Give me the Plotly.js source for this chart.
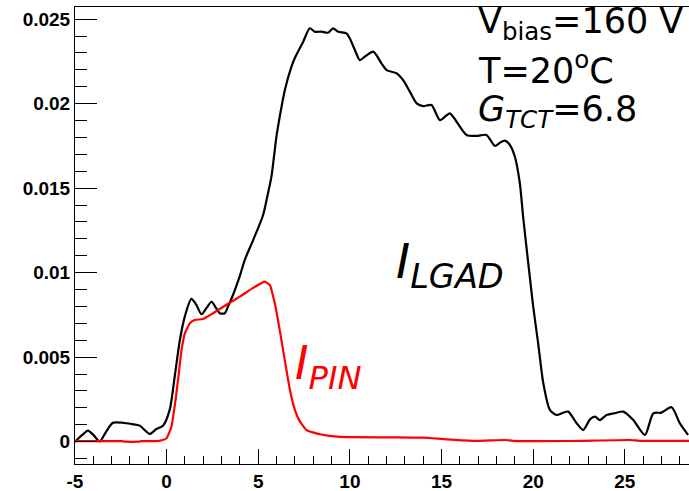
<!DOCTYPE html>
<html>
<head>
<meta charset="utf-8">
<script src="https://cdn.plot.ly/plotly-3.0.1.min.js"></script>
<style>
  html, body { margin: 0; padding: 0; background: #fff; }
  #chart { width: 689px; height: 491px; }
</style>
</head>
<body>
<div id="chart"></div>
<script>
// LGAD current pulse (black)
const lgadTime = [-5.0, -4.6, -4.29, -4.0, -3.65, -3.3, -2.93, -2.38, -1.9, -1.47, -0.92, -0.56, -0.2,
  0.17, 0.44, 0.72, 0.99, 1.35, 1.62, 1.9, 2.17, 2.45, 2.7, 2.9, 3.17, 3.35, 3.62, 3.99, 4.26, 4.72,
  5.26, 5.53, 5.72, 5.99, 6.17, 6.45, 6.81, 6.99, 7.45, 7.81, 8.08, 8.45, 8.81, 9.08, 9.36, 9.81, 9.99,
  10.27, 10.54, 10.81, 11.27, 11.72, 12.0, 12.54, 12.9, 13.27, 13.64, 14.0, 14.45, 14.91, 15.45,
  15.82, 16.36, 16.91, 17.45, 17.91, 18.2, 18.45, 18.7, 19.0, 19.27, 19.45, 19.73, 20.0, 20.27,
  20.55, 20.91, 21.28, 21.6, 21.91, 22.37, 22.73, 23.1, 23.37, 23.64, 24.0, 24.5, 24.91, 25.46,
  26.1, 26.55, 27.0, 27.55, 28.0, 28.45];
const lgadCurrent = [0.0, 0.0004, 0.00065, 0.0004, 0.00002, 0.0006, 0.00112, 0.00112, 0.00104, 0.00095,
  0.00046, 0.00075, 0.00095, 0.0019, 0.00385, 0.006, 0.0074, 0.00845, 0.0081, 0.00754, 0.0079,
  0.00828, 0.0079, 0.0076, 0.0076, 0.008, 0.00868, 0.0098, 0.01075, 0.01193, 0.0134, 0.0147, 0.0157,
  0.01805, 0.01923, 0.02081, 0.02219, 0.02269, 0.02367, 0.02446, 0.02426, 0.02426, 0.0242,
  0.02446, 0.02426, 0.02416, 0.02387, 0.02318, 0.02258, 0.02278, 0.02308, 0.02239, 0.02199,
  0.0218, 0.0214, 0.02071, 0.02002, 0.01986, 0.01992, 0.01903, 0.01943, 0.01893, 0.01815,
  0.01809, 0.01815, 0.0175, 0.0177, 0.01781, 0.0176, 0.01686, 0.01529, 0.01331, 0.01056,
  0.00799, 0.00582, 0.00346, 0.00188, 0.00158, 0.0017, 0.00178, 0.00109, 0.00069, 0.00132,
  0.00148, 0.00128, 0.00158, 0.0017, 0.00178, 0.00128, 0.0004, 0.00168, 0.00172, 0.00204,
  0.00109, 0.0004];

// PIN current pulse (red)
const pinTime = [-5.0, -2.4, -2.3, -1.5, -1.4, -0.4, -0.01, 0.26, 0.44, 0.62, 0.81, 0.99, 1.26, 1.53,
  1.99, 2.53, 3.26, 3.99, 4.72, 5.35, 5.63, 5.9, 6.17, 6.45, 6.72, 6.99, 7.27, 7.63, 8.36, 9.45,
  12.18, 14.0, 15.27, 16.9, 18.5, 18.9, 22.0, 25.3, 25.8, 28.5];
const pinCurrent = [0.00003, 0.00003, 0.0, 0.0, 0.00003, 0.00005, 0.0002, 0.00089, 0.0021, 0.00365,
  0.0054, 0.0064, 0.007, 0.0072, 0.00726, 0.0076, 0.0081, 0.00858, 0.0091, 0.00947, 0.00927,
  0.0082, 0.0066, 0.0048, 0.0031, 0.0019, 0.0012, 0.00069, 0.00044, 0.00028, 0.00026, 0.00024,
  0.00014, 0.00005, 0.0001, 0.00005, 0.00004, 0.0001, 0.00005, 0.00005];

// Axis tick labels
const xTickVals = [-5, 0, 5, 10, 15, 20, 25];
const xTickText = ['-5', '0', '5', '10', '15', '20', '25'];
const yTickVals = [0, 0.005, 0.01, 0.015, 0.02, 0.025];
const yTickText = ['0', '0.005', '0.01', '0.015', '0.02', '0.025'];

const traces = [
  { x: lgadTime, y: lgadCurrent, type: 'scatter', mode: 'lines',
    line: { color: '#000000', width: 2.2, shape: 'spline', smoothing: 0.7 }, hoverinfo: 'skip' },
  { x: pinTime, y: pinCurrent, type: 'scatter', mode: 'lines',
    line: { color: '#ff0000', width: 2.2, shape: 'spline', smoothing: 0.4 }, hoverinfo: 'skip' }
];

// plot area in pixels: x 75..689, y 7..464
const px = v => (v - 75) / 614;
const py = v => (464 - v) / 457;

const textFont = { family: 'DejaVu Sans, sans-serif', color: '#000', size: 35 };
const tickFont = { family: 'Liberation Sans, Arial, sans-serif', size: 19, color: '#000', weight: 'bold' };

const layout = {
  width: 689, height: 491,
  margin: { l: 75, r: 0, t: 7, b: 27, pad: 0 },
  paper_bgcolor: '#ffffff', plot_bgcolor: '#ffffff',
  showlegend: false,
  xaxis: {
    range: [-5, 28.5], showgrid: false, zeroline: false,
    showline: true, linecolor: '#000', linewidth: 1, mirror: true,
    ticks: 'inside', ticklen: 15, tickwidth: 1, tickcolor: '#000',
    tickvals: xTickVals, ticktext: xTickText,
    minor: { dtick: 1, tick0: -5, ticks: 'inside', ticklen: 8, tickwidth: 1, tickcolor: '#000' },
    tickfont: tickFont
  },
  yaxis: {
    range: [-0.00132, 0.02572], showgrid: false, zeroline: false,
    showline: true, linecolor: '#000', linewidth: 1, mirror: false,
    ticks: 'inside', ticklen: 22, tickwidth: 1, tickcolor: '#000',
    tickvals: yTickVals, ticktext: yTickText,
    minor: { dtick: 0.001, tick0: 0, ticks: 'inside', ticklen: 12, tickwidth: 1, tickcolor: '#000' },
    tickfont: tickFont
  },
  annotations: [
    { xref: 'paper', yref: 'paper', x: px(476), y: py(24), xanchor: 'left', yanchor: 'middle',
      text: 'V<sub>bias</sub>=160 V', showarrow: false, font: textFont },
    { xref: 'paper', yref: 'paper', x: px(476), y: py(68), xanchor: 'left', yanchor: 'middle',
      text: 'T=20<sup>o</sup>C', showarrow: false, font: textFont },
    { xref: 'paper', yref: 'paper', x: px(476), y: py(112), xanchor: 'left', yanchor: 'middle',
      text: '<i>G</i><sub><i>TCT</i></sub>=6.8', showarrow: false, font: textFont },
    { xref: 'paper', yref: 'paper', x: px(394), y: py(264), xanchor: 'left', yanchor: 'middle',
      text: '<i>I</i><sub><i>LGAD</i></sub>', showarrow: false,
      font: { family: 'DejaVu Sans, sans-serif', color: '#000', size: 48 } },
    { xref: 'paper', yref: 'paper', x: px(293), y: py(366), xanchor: 'left', yanchor: 'middle',
      text: '<i>I</i><sub><i>PIN</i></sub>', showarrow: false,
      font: { family: 'DejaVu Sans, sans-serif', color: '#ff0000', size: 46 } }
  ]
};

Plotly.newPlot('chart', traces, layout, { staticPlot: true, displayModeBar: false });
</script>
</body>
</html>
